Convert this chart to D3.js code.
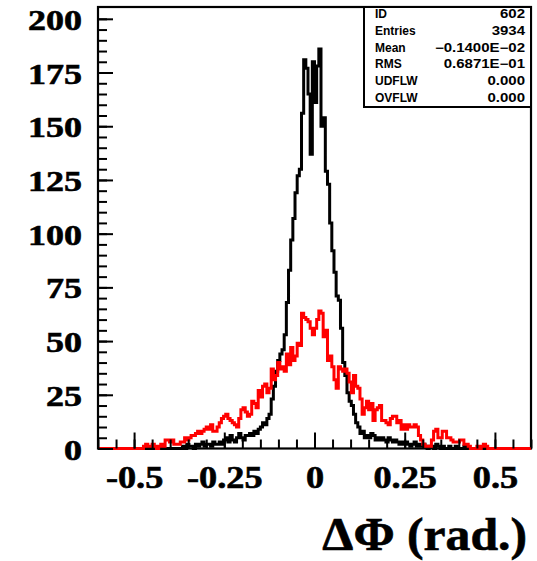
<!DOCTYPE html>
<html>
<head>
<meta charset="utf-8">
<script src="https://cdn.jsdelivr.net/npm/d3@7"></script>
<style>
  html, body { margin: 0; padding: 0; background: #fff; }
  svg { display: block; }
</style>
</head>
<body>
<svg id="chart" width="537" height="561"></svg>
<script>
// Histogram binning: 200 bins over [-0.6, 0.6] rad
const xMin = -0.6, xMax = 0.6, nBins = 200;

// Counts per bin, black histogram (ID 602)
const blackCounts = [
  0,0,0,0,0,0,0,0,0,0, 0,0,0,0,0,0,0,0,0,0, 0,0,0,0,0,0,0,0,0,0, 0,0,0,0,0,0,0,0,0,
  1,0,2,1,1,0,2,1,2,3,1,2,2,1,3,2,2,3,2,4,
  5,3,6,4,3,5,7,5,4,6,
  6,7,6,8,7,9,10,12,11,14,16,
  23,29,36,41,44,46,53,68,83,97,
  107,119,127,130,156,181,177,165,137,180,
  161,178,186,150,154,129,123,105,92,82,
  71,69,56,40,34,26,22,20,16,12,
  10,7,8,5,6,5,7,6,4,5,4,
  5,4,3,5,4,3,4,3,2,3,2,3,2,1,2,3,1,2,1,2,1,0,1,1,0,2,1,0,1,0,
  0,1,0,0,1,0,0,0,1,0,
  0,0,0,0,0,0,0,0,0,0, 0,0,0,0,0,0,0,0,0,0, 0,0,0,0,0,0,0,0,0
];

// Counts per bin, red histogram
const redCounts = [
  0,0,0,0,0,0,0,0,0,0, 0,0,0,0,0,0,0,0,0,0, 0,
  1,2,1,1,2,1,0,1,2,1,
  4,4,3,4,2,
  2,2,3,3,
  5,4,5,6,
  6,7,8,7,
  8,9,10,9,11,
  8,8,10,
  12,14,15,
  16,14,13,
  12,11,10,
  14,18,
  19,17,
  15,16,
  22,21,19,
  27,24,29,
  30,26,28,
  37,32,34,
  40,37,
  38,36,
  44,39,
  47,41,
  43,49,48,
  63,61,60,59,56,53,
  56,60,64,63,52,55,
  41,43,38,32,28,38,
  37,36,37,35,31,26,34,29,28,23,
  16,19,22,18,21,13,18,19,20,13,
  13,12,11,14,15,15,12,13,9,11,
  9,11,10,10,11,10,6,4,2,1,
  1,1,4,8,9,5,5,8,8,5,
  5,4,3,3,3,4,4,2,2,1,
  0,0,0,1,0,1,2,1,0,0,
  0,0,0,0,0,0,0,0,0,0, 0,0,0,0,0,0,0,0
];

// Axis ticks and labels
const yMajorTicks = [0, 25, 50, 75, 100, 125, 150, 175, 200];
const xMajorTicks = [-0.5, -0.25, 0, 0.25, 0.5];
const xTickLabels = ["-0.5", "-0.25", "0", "0.25", "0.5"];
const xTitle = "ΔΦ (rad.)";

// Statistics box rows
const statNames  = ["ID", "Entries", "Mean", "RMS", "UDFLW", "OVFLW"];
const statValues = ["602", "3934", "\u22120.1400E\u221202", "0.6871E\u221201", "0.000", "0.000"];

const svg = d3.select("#chart");
const plot = { left: 98, right: 531, top: 7, bottom: 448.5 };

const x = d3.scaleLinear().domain([xMin, xMax]).range([plot.left, plot.right]);
const y = d3.scaleLinear().domain([0, 205.5]).range([plot.bottom, plot.top]);

const serif = "'Liberation Serif', 'Times New Roman', serif";
const sans = "'Liberation Sans', Arial, Helvetica, sans-serif";

// Frame
svg.append("rect")
  .attr("x", plot.left).attr("y", plot.top)
  .attr("width", plot.right - plot.left).attr("height", plot.bottom - plot.top)
  .attr("fill", "none").attr("stroke", "#000").attr("stroke-width", 2.2);

// Step outline of a histogram
const binW = (xMax - xMin) / nBins;
function stepPoints(counts) {
  const pts = [];
  counts.forEach((c, i) => {
    const x0 = xMin + i * binW, x1 = x0 + binW;
    pts.push([x0, c], [x1, c]);
  });
  return pts;
}
const line = d3.line().x(d => x(d[0])).y(d => y(d[1]));

const hist = svg.append("g");
hist.append("path")
  .attr("d", line(stepPoints(blackCounts)))
  .attr("fill", "none").attr("stroke", "#000").attr("stroke-width", 3)
  .attr("stroke-linejoin", "miter");
hist.append("path")
  .attr("d", line(stepPoints(redCounts)))
  .attr("fill", "none").attr("stroke", "#ff0000").attr("stroke-width", 3)
  .attr("stroke-linejoin", "miter");

// Y axis: inward ticks, minor every 5
const yMinor = svg.append("g").attr("transform", `translate(${plot.left},0)`)
  .call(d3.axisLeft(y).tickValues(d3.range(0, 205, 5)).tickSize(-9).tickFormat(""));
yMinor.select(".domain").remove();
yMinor.selectAll("line").attr("stroke-width", 2);

const yAxis = svg.append("g").attr("transform", `translate(${plot.left},0)`)
  .call(d3.axisLeft(y).tickValues(yMajorTicks).tickSize(-15).tickPadding(0));
yAxis.select(".domain").remove();
yAxis.selectAll("line").attr("stroke-width", 2);
yAxis.selectAll("text")
  .attr("x", 0).attr("dy", null).attr("y", 10.5)
  .attr("transform", "translate(-16,0) scale(1.2,1)")
  .attr("text-anchor", "end")
  .style("font-family", serif).style("font-weight", "bold").style("font-size", "30px")
  .attr("fill", "#000").attr("stroke", "#000").attr("stroke-width", 0.6);

// X axis: inward ticks, minor every 0.05
const xMinor = svg.append("g").attr("transform", `translate(0,${plot.bottom})`)
  .call(d3.axisBottom(x).tickValues(x.ticks(24)).tickSize(-9).tickFormat(""));
xMinor.select(".domain").remove();
xMinor.selectAll("line").attr("stroke-width", 2);

const xAxis = svg.append("g").attr("transform", `translate(0,${plot.bottom})`)
  .call(d3.axisBottom(x).tickValues(xMajorTicks).tickSize(-16)
    .tickFormat((d, i) => xTickLabels[i]));
xAxis.select(".domain").remove();
xAxis.selectAll("line").attr("stroke-width", 2);
xAxis.selectAll("text")
  .attr("y", 0).attr("dy", null)
  .attr("transform", "translate(0,39) scale(1.17,1)")
  .style("font-family", serif).style("font-weight", "bold").style("font-size", "31px")
  .attr("fill", "#000").attr("stroke", "#000").attr("stroke-width", 0.6);

// X axis title
svg.append("text")
  .attr("transform", "translate(527,550) scale(1.08,1)")
  .attr("text-anchor", "end")
  .style("font-family", serif).style("font-weight", "bold").style("font-size", "46px")
  .attr("stroke", "#000").attr("stroke-width", 0.6)
  .text(xTitle);

// Statistics box
const box = { left: 364, top: plot.top, right: plot.right, bottom: 107 };
svg.append("rect")
  .attr("x", box.left).attr("y", box.top)
  .attr("width", box.right - box.left).attr("height", box.bottom - box.top)
  .attr("fill", "#fff").attr("stroke", "#000").attr("stroke-width", 2);

const rowBase = [18, 35, 51.5, 68, 85, 101.5];
const stats = svg.append("g")
  .style("font-family", sans).style("font-weight", "bold").style("font-size", "12px");
statNames.forEach((n, i) => {
  stats.append("text").attr("x", 375).attr("y", rowBase[i]).text(n);
  stats.append("text")
    .attr("transform", `translate(525,${rowBase[i]}) scale(1.25,1)`)
    .attr("text-anchor", "end").text(statValues[i]);
});
</script>
</body>
</html>
